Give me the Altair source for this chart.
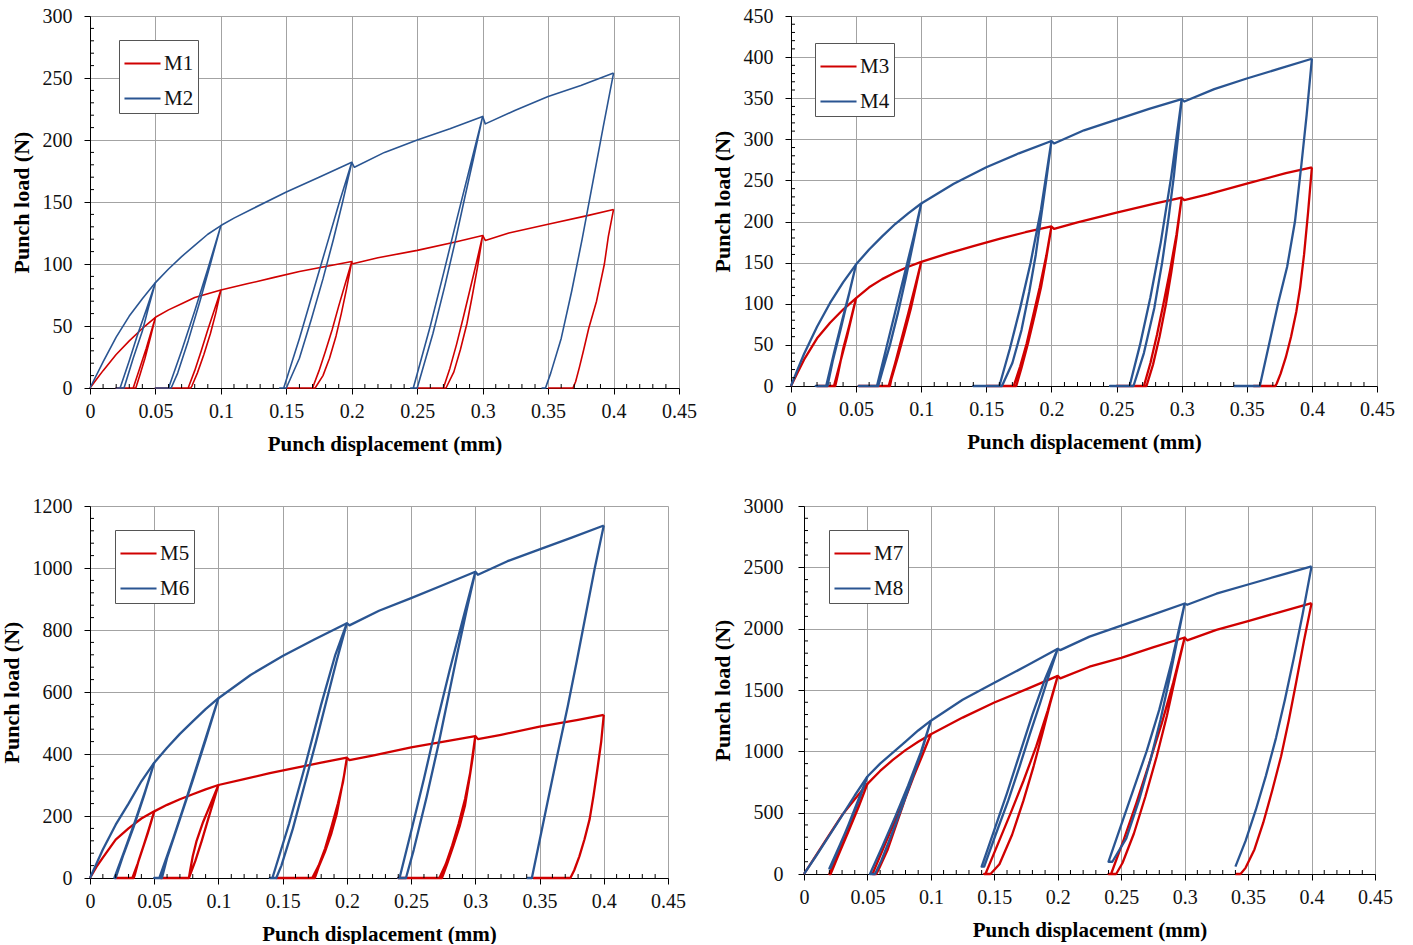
import altair as alt
import pandas as pd

RED = "#D00000"
BLUE = "#2A5592"
SERIF = "Liberation Serif"

X_TICKS = [0, 0.05, 0.1, 0.15, 0.2, 0.25, 0.3, 0.35, 0.4, 0.45]

# ---------------------------------------------------------------------------
# Cyclic punch tests.  For every material:
#   *_LOAD    : monotonic loading envelope (displacement mm, load N)
#   *_UNLOAD  : unloading branches, from the peak down to zero load
#   *_RETRACT : displacement the punch is retracted to (zero load)
#   *_RELOAD  : reloading branches back up to the previous peak
# ---------------------------------------------------------------------------

# M1 / M2
M1_LOAD = [(0, 0), (0.005, 7), (0.01, 14), (0.02, 27), (0.03, 38), (0.04, 48), (0.05, 57),
           (0.06, 63), (0.07, 68), (0.08, 73), (0.09, 76), (0.1, 79), (0.12, 84), (0.14, 89),
           (0.16, 94), (0.18, 98), (0.2, 102), (0.2, 100), (0.22, 105), (0.25, 111),
           (0.28, 118), (0.3, 123), (0.302, 119), (0.32, 125), (0.35, 132), (0.38, 139),
           (0.4, 144)]
M1_UNLOAD = [
    [(0.05, 57), (0.046, 40), (0.042, 24), (0.038, 10), (0.035, 0)],
    [(0.1, 79), (0.096, 60), (0.092, 44), (0.087, 27), (0.082, 12), (0.078, 2), (0.077, 0)],
    [(0.2, 102), (0.196, 80), (0.192, 60), (0.188, 42), (0.183, 24), (0.178, 10), (0.172, 0)],
    [(0.3, 123), (0.296, 97), (0.292, 74), (0.288, 52), (0.283, 31), (0.278, 13), (0.272, 0)],
    [(0.4, 144), (0.396, 122), (0.393, 100), (0.387, 70), (0.381, 48), (0.377, 30),
     (0.374, 17), (0.371, 5), (0.369, 0)],
]
M1_RETRACT = [0.02, 0.05, 0.15, 0.25, 0.35]
M1_RELOAD = [
    [(0.033, 0), (0.038, 16), (0.043, 32), (0.05, 57)],
    [(0.075, 0), (0.08, 14), (0.085, 30), (0.09, 47), (0.095, 63), (0.1, 79)],
    [(0.17, 0), (0.175, 14), (0.18, 30), (0.185, 47), (0.19, 66), (0.195, 84), (0.2, 102)],
    [(0.27, 0), (0.275, 16), (0.28, 35), (0.285, 56), (0.29, 78), (0.295, 100), (0.3, 123)],
]

M2_LOAD = [(0, 0), (0.01, 21), (0.02, 41), (0.03, 58), (0.04, 72), (0.05, 85), (0.06, 96),
           (0.07, 106), (0.08, 115), (0.09, 124), (0.1, 131), (0.11, 137), (0.125, 145),
           (0.15, 158), (0.175, 170), (0.2, 182), (0.202, 178), (0.225, 190), (0.25, 200),
           (0.275, 209), (0.3, 219), (0.302, 213), (0.325, 224), (0.35, 235), (0.375, 244),
           (0.39, 250), (0.4, 254)]
M2_UNLOAD = [
    [(0.05, 85), (0.045, 66), (0.04, 46), (0.033, 24), (0.026, 0)],
    [(0.1, 131), (0.092, 100), (0.084, 70), (0.075, 38), (0.067, 12), (0.062, 0)],
    [(0.2, 182), (0.193, 150), (0.186, 120), (0.178, 88), (0.169, 55), (0.16, 24), (0.15, 0)],
    [(0.3, 219), (0.293, 185), (0.286, 152), (0.279, 118), (0.271, 82), (0.262, 44), (0.25, 0)],
    [(0.4, 254), (0.392, 210), (0.384, 165), (0.376, 120), (0.368, 78), (0.36, 40),
     (0.352, 12), (0.348, 0)],
]
M2_RETRACT = [0.02, 0.05, 0.145, 0.245, 0.345]
M2_RELOAD = [
    [(0.023, 0), (0.03, 22), (0.036, 42), (0.043, 63), (0.05, 85)],
    [(0.06, 0), (0.07, 30), (0.08, 62), (0.09, 96), (0.1, 131)],
    [(0.148, 0), (0.16, 40), (0.17, 76), (0.18, 112), (0.19, 148), (0.2, 182)],
    [(0.247, 0), (0.26, 50), (0.27, 92), (0.28, 135), (0.29, 177), (0.3, 219)],
]

# M3 / M4
M3_LOAD = [(0, 0), (0.005, 16), (0.01, 32), (0.02, 58), (0.03, 77), (0.04, 93), (0.05, 107),
           (0.06, 120), (0.07, 130), (0.08, 138), (0.09, 145), (0.1, 151), (0.12, 161),
           (0.14, 170), (0.16, 179), (0.18, 187), (0.2, 194), (0.202, 191), (0.22, 199),
           (0.25, 211), (0.28, 222), (0.3, 229), (0.302, 226), (0.32, 233), (0.35, 246),
           (0.38, 259), (0.4, 266)]
M3_UNLOAD = [
    [(0.05, 107), (0.045, 75), (0.04, 45), (0.036, 14), (0.034, 0)],
    [(0.1, 151), (0.096, 122), (0.092, 94), (0.087, 64), (0.082, 35), (0.077, 8), (0.076, 0)],
    [(0.2, 194), (0.196, 155), (0.192, 120), (0.187, 85), (0.182, 52), (0.177, 22), (0.173, 0)],
    [(0.3, 229), (0.296, 180), (0.292, 138), (0.288, 100), (0.283, 60), (0.278, 26), (0.273, 0)],
    [(0.4, 266), (0.397, 210), (0.394, 160), (0.391, 120), (0.388, 90), (0.384, 60),
     (0.38, 35), (0.376, 15), (0.373, 3), (0.372, 0)],
]
M3_RETRACT = [0.02, 0.052, 0.15, 0.25, 0.355]
M3_RELOAD = [
    [(0.033, 0), (0.038, 30), (0.043, 60), (0.05, 107)],
    [(0.075, 0), (0.08, 28), (0.085, 58), (0.09, 88), (0.095, 119), (0.1, 151)],
    [(0.171, 0), (0.176, 24), (0.181, 52), (0.186, 86), (0.191, 120), (0.196, 158), (0.2, 194)],
    [(0.271, 0), (0.276, 28), (0.281, 62), (0.286, 100), (0.291, 140), (0.296, 184), (0.3, 229)],
]

M4_LOAD = [(0, 0), (0.005, 20), (0.01, 39), (0.02, 72), (0.03, 101), (0.04, 126), (0.05, 148),
           (0.06, 166), (0.07, 182), (0.08, 197), (0.09, 210), (0.1, 222), (0.125, 246),
           (0.15, 266), (0.175, 283), (0.2, 298), (0.202, 295), (0.225, 311), (0.25, 324),
           (0.275, 337), (0.3, 349), (0.302, 346), (0.325, 361), (0.35, 374), (0.375, 386),
           (0.4, 398)]
M4_UNLOAD = [
    [(0.05, 148), (0.044, 108), (0.038, 68), (0.032, 30), (0.028, 0)],
    [(0.1, 222), (0.094, 175), (0.088, 130), (0.082, 88), (0.076, 50), (0.07, 17), (0.067, 0)],
    [(0.2, 298), (0.196, 250), (0.192, 205), (0.188, 160), (0.183, 115), (0.177, 68),
     (0.17, 28), (0.162, 0)],
    [(0.3, 349), (0.297, 300), (0.294, 255), (0.29, 205), (0.285, 150), (0.279, 95),
     (0.271, 40), (0.263, 0)],
    [(0.4, 398), (0.396, 330), (0.392, 270), (0.387, 200), (0.381, 145), (0.374, 100),
     (0.367, 50), (0.36, 0)],
]
M4_RETRACT = [0.019, 0.052, 0.14, 0.245, 0.34]
M4_RELOAD = [
    [(0.027, 0), (0.033, 40), (0.039, 78), (0.045, 115), (0.05, 148)],
    [(0.066, 0), (0.073, 45), (0.08, 90), (0.087, 135), (0.094, 180), (0.1, 222)],
    [(0.16, 0), (0.168, 45), (0.176, 95), (0.184, 150), (0.192, 215), (0.2, 298)],
    [(0.26, 0), (0.268, 50), (0.276, 108), (0.284, 175), (0.292, 255), (0.3, 349)],
]

# M5 / M6
M5_LOAD = [(0, 0), (0.005, 36), (0.01, 66), (0.02, 124), (0.03, 160), (0.04, 192), (0.05, 215),
           (0.06, 236), (0.07, 254), (0.08, 270), (0.09, 286), (0.1, 300), (0.12, 319),
           (0.14, 338), (0.16, 355), (0.18, 372), (0.2, 388), (0.202, 380), (0.22, 395),
           (0.25, 421), (0.28, 443), (0.3, 458), (0.302, 448), (0.32, 462), (0.35, 488),
           (0.38, 510), (0.4, 526)]
M5_UNLOAD = [
    [(0.05, 215), (0.046, 160), (0.042, 108), (0.038, 58), (0.035, 12), (0.034, 0)],
    [(0.1, 300), (0.094, 240), (0.088, 180), (0.083, 120), (0.08, 70), (0.078, 25), (0.077, 0)],
    [(0.2, 388), (0.198, 335), (0.195, 270), (0.192, 205), (0.188, 145), (0.183, 85),
     (0.178, 35), (0.175, 0)],
    [(0.3, 458), (0.298, 390), (0.295, 310), (0.292, 235), (0.288, 170), (0.283, 105),
     (0.278, 45), (0.274, 0)],
    [(0.4, 526), (0.398, 440), (0.395, 350), (0.392, 265), (0.389, 190), (0.385, 125),
     (0.381, 70), (0.377, 25), (0.374, 0)],
]
M5_RETRACT = [0.02, 0.055, 0.145, 0.24, 0.345]
M5_RELOAD = [
    [(0.033, 0), (0.037, 45), (0.041, 95), (0.045, 145), (0.05, 215)],
    [(0.077, 0), (0.082, 55), (0.087, 120), (0.092, 190), (0.096, 245), (0.1, 300)],
    [(0.173, 0), (0.178, 40), (0.183, 95), (0.188, 165), (0.193, 240), (0.197, 310), (0.2, 388)],
    [(0.272, 0), (0.277, 45), (0.282, 105), (0.287, 175), (0.292, 255), (0.296, 340), (0.3, 458)],
]

M6_LOAD = [(0, 0), (0.005, 46), (0.01, 92), (0.02, 172), (0.03, 240), (0.04, 312), (0.05, 372),
           (0.06, 420), (0.07, 465), (0.08, 505), (0.09, 545), (0.1, 580), (0.125, 655),
           (0.15, 716), (0.175, 770), (0.2, 822), (0.202, 815), (0.225, 862), (0.25, 903),
           (0.275, 945), (0.3, 988), (0.302, 978), (0.325, 1022), (0.35, 1060), (0.375, 1098),
           (0.4, 1137)]
M6_UNLOAD = [
    [(0.05, 372), (0.042, 265), (0.034, 165), (0.026, 75), (0.02, 0)],
    [(0.1, 580), (0.09, 445), (0.08, 315), (0.07, 190), (0.06, 65), (0.056, 0)],
    [(0.2, 822), (0.192, 700), (0.184, 570), (0.176, 440), (0.167, 300), (0.158, 160),
     (0.149, 40), (0.145, 0)],
    [(0.3, 988), (0.293, 860), (0.286, 725), (0.279, 585), (0.271, 425), (0.262, 260),
     (0.252, 90), (0.246, 0)],
    [(0.4, 1137), (0.393, 1000), (0.386, 850), (0.379, 700), (0.372, 555), (0.364, 400),
     (0.356, 240), (0.349, 100), (0.344, 0)],
]
M6_RETRACT = [0.019, 0.05, 0.14, 0.24, 0.34]
M6_RELOAD = [
    [(0.019, 0), (0.027, 90), (0.035, 182), (0.043, 280), (0.05, 372)],
    [(0.054, 0), (0.065, 130), (0.075, 255), (0.085, 385), (0.1, 580)],
    [(0.142, 0), (0.155, 175), (0.168, 370), (0.18, 560), (0.191, 720), (0.2, 822)],
    [(0.241, 0), (0.25, 150), (0.26, 320), (0.27, 500), (0.28, 670), (0.29, 830), (0.3, 988)],
]

# M7 / M8
M7_LOAD = [(0, 0), (0.01, 160), (0.02, 320), (0.03, 480), (0.04, 610), (0.05, 735), (0.06, 840),
           (0.07, 930), (0.08, 1010), (0.09, 1078), (0.1, 1140), (0.125, 1275), (0.15, 1398),
           (0.175, 1505), (0.2, 1615), (0.202, 1595), (0.225, 1690), (0.25, 1762),
           (0.275, 1848), (0.3, 1928), (0.302, 1905), (0.325, 1990), (0.35, 2062),
           (0.375, 2135), (0.4, 2208)]
M7_UNLOAD = [
    [(0.05, 735), (0.043, 545), (0.035, 345), (0.027, 150), (0.021, 0)],
    [(0.1, 1140), (0.094, 990), (0.087, 810), (0.08, 620), (0.073, 410), (0.066, 200),
     (0.059, 40), (0.057, 0)],
    [(0.2, 1615), (0.194, 1390), (0.188, 1150), (0.181, 880), (0.173, 600), (0.164, 320),
     (0.154, 80), (0.147, 0)],
    [(0.3, 1928), (0.293, 1620), (0.286, 1290), (0.278, 960), (0.269, 630), (0.26, 330),
     (0.251, 90), (0.246, 0)],
    [(0.4, 2208), (0.394, 1900), (0.388, 1570), (0.382, 1250), (0.376, 960), (0.369, 680),
     (0.362, 420), (0.355, 200), (0.348, 50), (0.344, 0)],
]
M7_RETRACT = [0.02, 0.054, 0.142, 0.24, 0.34]
M7_RELOAD = [
    [(0.02, 0), (0.028, 190), (0.036, 385), (0.044, 580), (0.05, 735)],
    [(0.054, 0), (0.065, 270), (0.075, 510), (0.085, 760), (0.093, 960), (0.1, 1140)],
    [(0.143, 0), (0.153, 250), (0.163, 500), (0.173, 760), (0.183, 1040), (0.192, 1330),
     (0.2, 1615)],
    [(0.242, 0), (0.252, 280), (0.262, 580), (0.272, 900), (0.282, 1230), (0.291, 1560),
     (0.3, 1928)],
]

M8_LOAD = [(0, 0), (0.01, 155), (0.02, 315), (0.03, 475), (0.04, 640), (0.05, 795), (0.06, 900),
           (0.07, 990), (0.08, 1080), (0.09, 1170), (0.1, 1250), (0.125, 1421), (0.15, 1560),
           (0.175, 1695), (0.2, 1837), (0.202, 1825), (0.225, 1935), (0.25, 2025),
           (0.275, 2115), (0.3, 2205), (0.302, 2195), (0.325, 2285), (0.35, 2360),
           (0.375, 2435), (0.4, 2508)]
M8_UNLOAD = [
    [(0.05, 795), (0.043, 610), (0.035, 400), (0.027, 200), (0.021, 50)],
    [(0.1, 1250), (0.093, 1010), (0.085, 770), (0.077, 540), (0.069, 320), (0.061, 110),
     (0.056, 0)],
    [(0.2, 1837), (0.193, 1620), (0.186, 1390), (0.178, 1140), (0.17, 880), (0.161, 600),
     (0.151, 320), (0.142, 60)],
    [(0.3, 2205), (0.294, 1900), (0.288, 1590), (0.281, 1260), (0.273, 930), (0.264, 600),
     (0.254, 290), (0.243, 100)],
    [(0.4, 2508), (0.393, 2120), (0.386, 1760), (0.379, 1420), (0.372, 1110), (0.364, 800),
     (0.356, 520), (0.348, 270), (0.34, 60)],
]
M8_RETRACT = [None, 0.052, None, None, None]
M8_RELOAD = [
    [(0.02, 45), (0.028, 230), (0.036, 420), (0.044, 620), (0.05, 795)],
    [(0.052, 0), (0.062, 230), (0.072, 470), (0.082, 720), (0.092, 990), (0.1, 1250)],
    [(0.14, 60), (0.15, 360), (0.16, 660), (0.17, 980), (0.18, 1300), (0.19, 1590), (0.2, 1837)],
    [(0.24, 100), (0.25, 400), (0.26, 700), (0.27, 1000), (0.28, 1340), (0.29, 1740),
     (0.3, 2205)],
]


def curve_table(name, load, unload, retract, reload):
    """Flatten one material's envelope and load cycles into a long table."""
    rows = [dict(mat=name, seg="env", i=i, x=x, y=y) for i, (x, y) in enumerate(load)]
    for k, down in enumerate(unload):
        path = list(down)
        if retract[k] is not None:
            path.append((retract[k], 0))
        if k < len(reload):
            path += list(reload[k])
        rows += [dict(mat=name, seg=f"cycle{k}", i=i, x=x, y=y) for i, (x, y) in enumerate(path)]
    return rows


def panel(pair, ymax, ystep, yminor, width, height, stroke, legend_xy, ypad=12):
    names = [p[0] for p in pair]
    rows = []
    for p in pair:
        rows += curve_table(*p)
    df = pd.DataFrame(rows)

    xs = alt.Scale(domain=[0, 0.45], nice=False, zero=False)
    ys = alt.Scale(domain=[0, ymax], nice=False)
    y_ticks = list(range(0, ymax + 1, ystep))

    x_axis = alt.Axis(values=X_TICKS, labelExpr="format(datum.value, '~g')",
                      labelFont=SERIF, labelFontSize=20, labelColor="#111",
                      labelPadding=7, labelFlush=False, labelOverlap=False,
                      tickSize=6, tickColor="black", domainColor="black",
                      gridColor="#A3A3A3", title="Punch displacement (mm)",
                      titleFont=SERIF, titleFontSize=21, titleFontWeight="bold",
                      titleColor="black", titlePadding=12)
    y_axis = alt.Axis(values=y_ticks, format="d",
                      labelFont=SERIF, labelFontSize=20, labelColor="#111",
                      labelPadding=ypad, labelOverlap=False,
                      tickSize=6, tickColor="black", domainColor="black",
                      gridColor="#A3A3A3", title="Punch load (N)",
                      titleFont=SERIF, titleFontSize=22, titleFontWeight="bold",
                      titleColor="black", titlePadding=9)

    lines = alt.Chart(df).mark_line(strokeWidth=stroke, strokeJoin="round").encode(
        x=alt.X("x:Q", scale=xs, axis=x_axis),
        y=alt.Y("y:Q", scale=ys, axis=y_axis),
        color=alt.Color("mat:N", scale=alt.Scale(domain=names, range=[RED, BLUE]),
                        legend=alt.Legend(orient="none", legendX=legend_xy[0],
                                          legendY=legend_xy[1], title=None,
                                          symbolType="stroke", symbolSize=1300,
                                          symbolStrokeWidth=2, labelFont=SERIF,
                                          labelFontSize=21, labelColor="#111",
                                          labelOffset=2, padding=4, rowPadding=5,
                                          strokeColor="#555", fillColor="white")),
        detail="seg:N",
        order="i:Q",
    )

    # small inward-pointing minor ticks on both axes
    x_minor = pd.DataFrame({"x": [i / 100 for i in range(1, 45) if i % 5]})
    y_minor = pd.DataFrame({"y": [v for v in range(yminor, ymax, yminor) if v % ystep]})
    xm = alt.Chart(x_minor).mark_rule(color="black", strokeWidth=1).encode(
        x=alt.X("x:Q", scale=xs, axis=x_axis), y=alt.value(height), y2=alt.value(height - 4))
    ym = alt.Chart(y_minor).mark_rule(color="black", strokeWidth=1).encode(
        y=alt.Y("y:Q", scale=ys, axis=y_axis), x=alt.value(0), x2=alt.value(4))

    return alt.layer(lines, xm, ym).properties(width=width, height=height)


p1 = panel([("M1", M1_LOAD, M1_UNLOAD, M1_RETRACT, M1_RELOAD),
            ("M2", M2_LOAD, M2_UNLOAD, M2_RETRACT, M2_RELOAD)],
           300, 50, 10, 589, 372, 1.6, (29, 24))
p2 = panel([("M3", M3_LOAD, M3_UNLOAD, M3_RETRACT, M3_RELOAD),
            ("M4", M4_LOAD, M4_UNLOAD, M4_RETRACT, M4_RELOAD)],
           450, 50, 10, 586, 370, 2.3, (24, 27))
p3 = panel([("M5", M5_LOAD, M5_UNLOAD, M5_RETRACT, M5_RELOAD),
            ("M6", M6_LOAD, M6_UNLOAD, M6_RETRACT, M6_RELOAD)],
           1200, 200, 40, 578, 372, 2.3, (25, 24))
p4 = panel([("M7", M7_LOAD, M7_UNLOAD, M7_RETRACT, M7_RELOAD),
            ("M8", M8_LOAD, M8_UNLOAD, M8_RETRACT, M8_RELOAD)],
           3000, 500, 100, 571, 368, 2.3, (25, 24), ypad=15)

chart = alt.concat(p1, p2, p3, p4, columns=2, align="none",
                   spacing={"row": 42, "column": 14}).resolve_scale(
    color="independent").properties(
    padding={"left": 0, "top": 6, "right": 0, "bottom": 0},
    background="white",
).configure_view(stroke=None)

chart.save("out.html", embed_options={"renderer": "svg", "actions": False})
